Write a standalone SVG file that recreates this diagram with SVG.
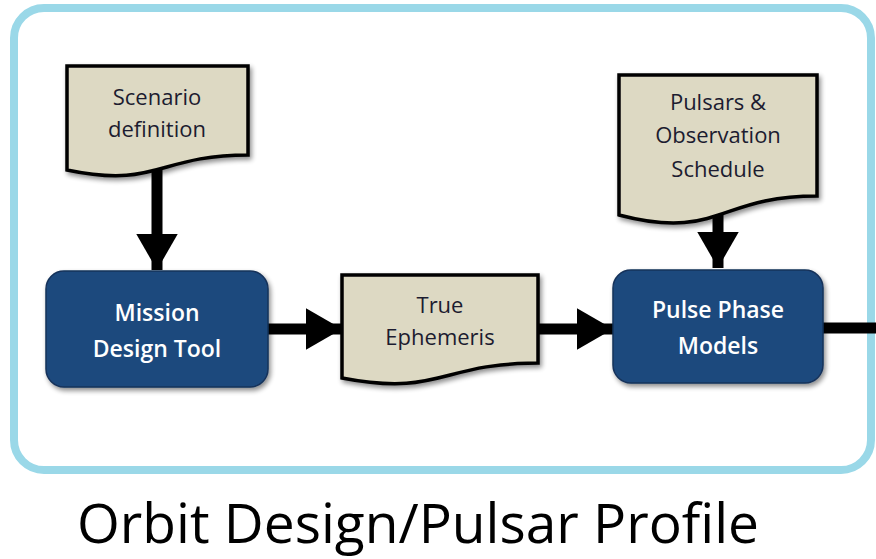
<svg xmlns="http://www.w3.org/2000/svg" width="876" height="559" viewBox="0 0 876 559">
<defs>
  <filter id="sh" x="-20%" y="-20%" width="140%" height="150%">
    <feGaussianBlur in="SourceAlpha" stdDeviation="2.5"/>
    <feOffset dx="2" dy="3" result="b"/>
    <feComponentTransfer><feFuncA type="linear" slope="0.45"/></feComponentTransfer>
    <feMerge><feMergeNode/><feMergeNode in="SourceGraphic"/></feMerge>
  </filter>
  <marker id="ah" viewBox="0 0 10 10" refX="10" refY="5" markerWidth="3.3" markerHeight="3.8" markerUnits="strokeWidth" orient="auto" preserveAspectRatio="none">
    <path d="M0,0 L10,5 L0,10 Z" fill="#000"/>
  </marker>
</defs>
<style>
  .frame{fill:#fff;stroke:#9ad8e8;stroke-width:8}
  .doc{fill:#ddd9c3;stroke:#000;stroke-width:3.5;stroke-linejoin:miter}
  .proc{fill:#1f497d;stroke:#14325a;stroke-width:1.5}
  .dt{font-family:"Open Sans","Liberation Sans",sans-serif;font-size:22px;fill:#1c1c30;text-anchor:middle}
  .pt{font-family:"Open Sans","Liberation Sans",sans-serif;font-size:23px;font-weight:600;fill:#fff;text-anchor:middle}
  .conn{stroke:#000;stroke-width:11;fill:none}
  .title{font-family:"Open Sans","Liberation Sans",sans-serif;font-size:54px;fill:#000}
</style>
<rect class="frame" x="14" y="8" width="857" height="462" rx="30"/>

<g id="connectors">
  <line class="conn" x1="157" y1="168" x2="157" y2="270" marker-end="url(#ah)"/>
  <line class="conn" x1="268" y1="329" x2="342" y2="329" marker-end="url(#ah)"/>
  <line class="conn" x1="538" y1="329" x2="613" y2="329" marker-end="url(#ah)"/>
  <line class="conn" x1="718" y1="200" x2="718" y2="268" marker-end="url(#ah)"/>
  <line class="conn" x1="823" y1="328" x2="876" y2="328"/>
</g>

<g id="scenario">
  <path class="doc" filter="url(#sh)" d="M67,66 H248 V155 C157.5,155 157.5,189 67,170 Z"/>
  <text class="dt" x="157" y="105">Scenario</text>
  <text class="dt" x="157" y="137">definition</text>
</g>

<g id="mission">
  <rect class="proc" filter="url(#sh)" x="46" y="271" width="222" height="116" rx="18"/>
  <text class="pt" x="157" y="321">Mission</text>
  <text class="pt" x="157" y="357">Design Tool</text>
</g>

<g id="ephemeris">
  <path class="doc" filter="url(#sh)" d="M342,275 H538 V363 C440,363 440,397 342,378 Z"/>
  <text class="dt" x="440" y="313">True</text>
  <text class="dt" x="440" y="345">Ephemeris</text>
</g>

<g id="pulsars">
  <path class="doc" filter="url(#sh)" d="M619,75 H817 V196 C718,196 718,241 619,215 Z"/>
  <text class="dt" x="718" y="110">Pulsars &amp;</text>
  <text class="dt" x="718" y="143">Observation</text>
  <text class="dt" x="718" y="177">Schedule</text>
</g>

<g id="pulse">
  <rect class="proc" filter="url(#sh)" x="613" y="270" width="210" height="113" rx="18"/>
  <text class="pt" x="718" y="318">Pulse Phase</text>
  <text class="pt" x="718" y="354">Models</text>
</g>

<text class="title" x="77" y="543" textLength="682" lengthAdjust="spacingAndGlyphs">Orbit Design/Pulsar Profile</text>
</svg>
